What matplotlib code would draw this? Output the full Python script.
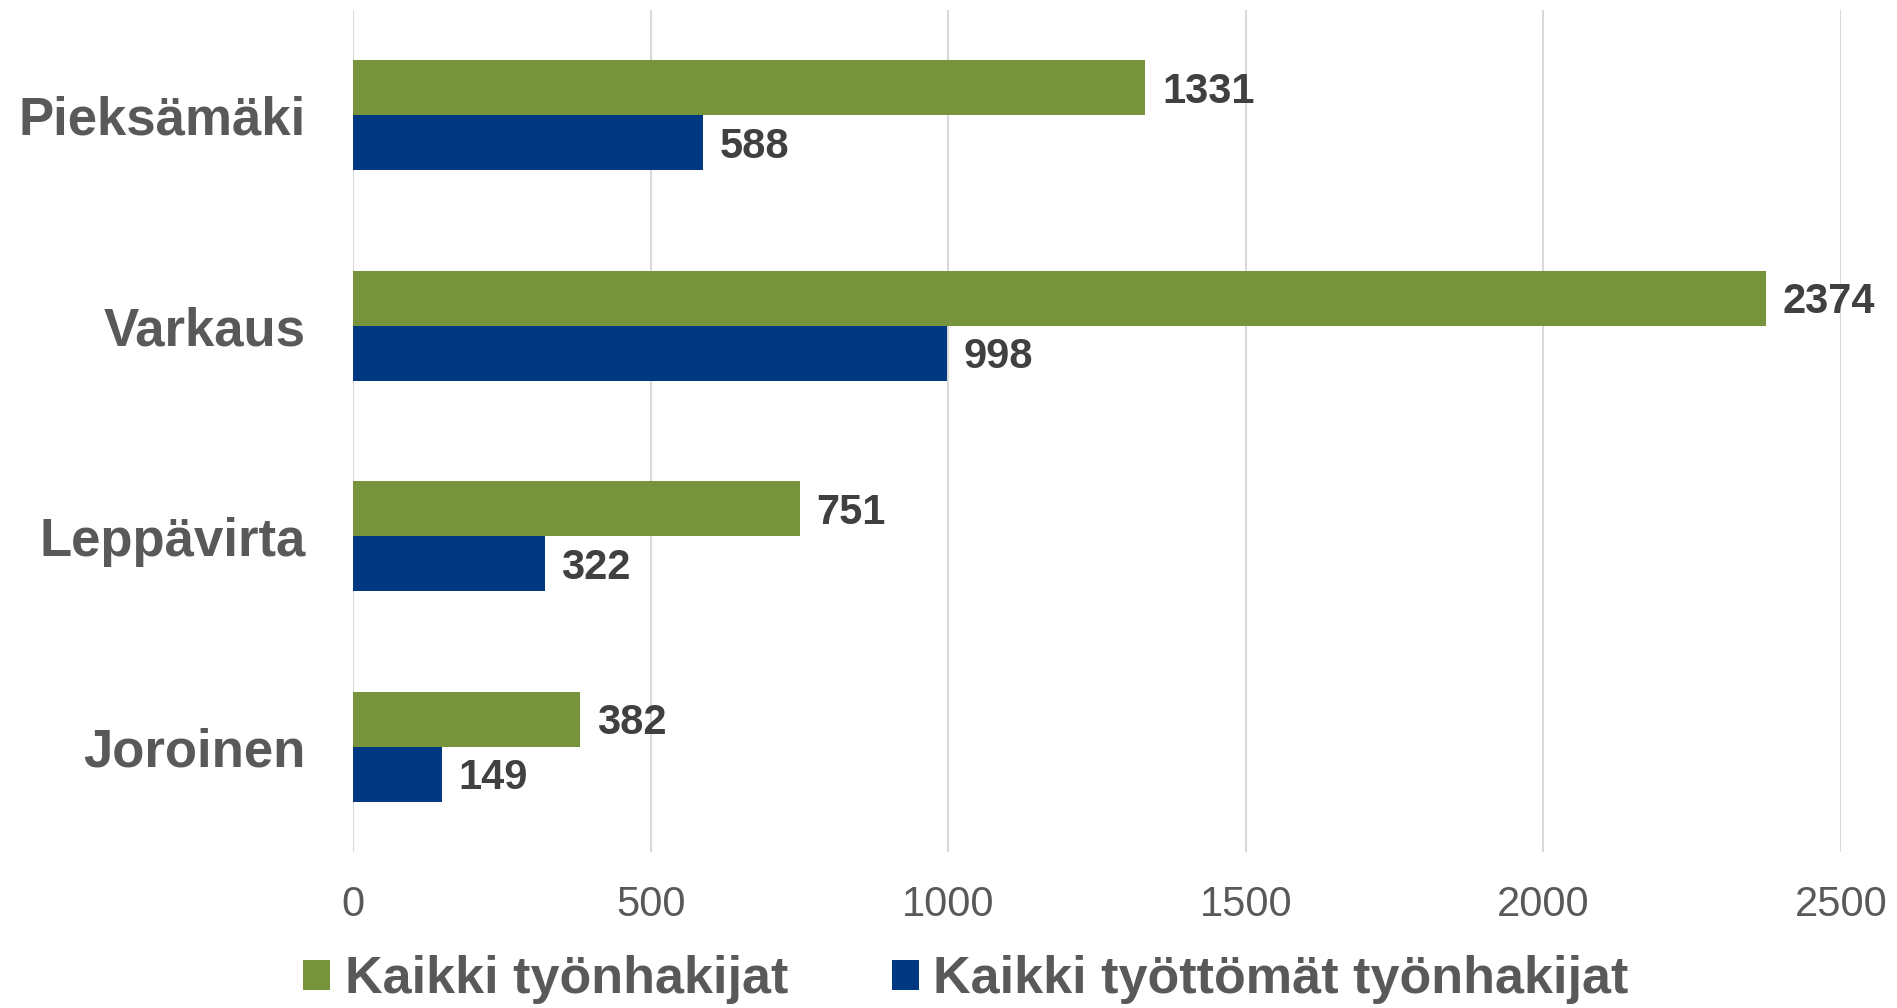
import numpy as np
import matplotlib.pyplot as plt

plt.rcParams['font.family'] = ['Liberation Sans', 'DejaVu Sans']

# data
kunnat = ['Pieksämäki', 'Varkaus', 'Leppävirta', 'Joroinen']
kaikki = [1331, 2374, 751, 382]
tyottomat = [588, 998, 322, 149]
labels = ['Kaikki työnhakijat', 'Kaikki työttömät työnhakijat']
xticks = [0, 500, 1000, 1500, 2000, 2500]

green = '#77933C'
blue = '#003882'
grey = '#595959'

fig = plt.figure(figsize=(18.97, 10.08), dpi=100)
ax = fig.add_axes([353 / 1897, 1 - 852 / 1008, (1841 - 353) / 1897, 842 / 1008])

y = np.arange(len(kunnat))
h = 0.262
b1 = ax.barh(y - h / 2, kaikki, height=h, color=green, label=labels[0])
b2 = ax.barh(y + h / 2, tyottomat, height=h, color=blue, label=labels[1])

# value labels, digits centred on the bar
lab_size = 30
for bars in (b1, b2):
    for rect in bars:
        w = rect.get_width()
        ax.annotate(f'{w:.0f}', (w, rect.get_y() + rect.get_height() / 2),
                    xytext=(12, -0.716 * lab_size / 2), textcoords='offset points',
                    va='baseline', ha='left', fontsize=lab_size, fontweight='bold',
                    color='#404040')

ax.set_ylim(len(kunnat) - 0.5, -0.5)
ax.set_xlim(0, 2500)
ax.set_xticks(xticks)
ax.set_xticklabels([str(t) for t in xticks])
ax.set_yticks(y)
ax.set_yticklabels(kunnat, fontsize=38, fontweight='bold', color=grey)
ax.tick_params(axis='x', length=0, pad=24, labelsize=30, labelcolor=grey)
ax.tick_params(axis='y', length=0, pad=34)

ax.grid(axis='x', color='#D9D9D9', linewidth=1.5)
ax.set_axisbelow(True)
for s in ax.spines.values():
    s.set_visible(False)

leg = fig.legend(loc='center', bbox_to_anchor=(966 / 1897, 1 - 980 / 1008), ncol=2,
                 frameon=False, handlelength=0.52, handleheight=0.5,
                 handletextpad=0.27, columnspacing=2.0,
                 prop={'size': 37.5, 'weight': 'bold'})
for t in leg.get_texts():
    t.set_color(grey)

fig.savefig('out.png', dpi=100)
